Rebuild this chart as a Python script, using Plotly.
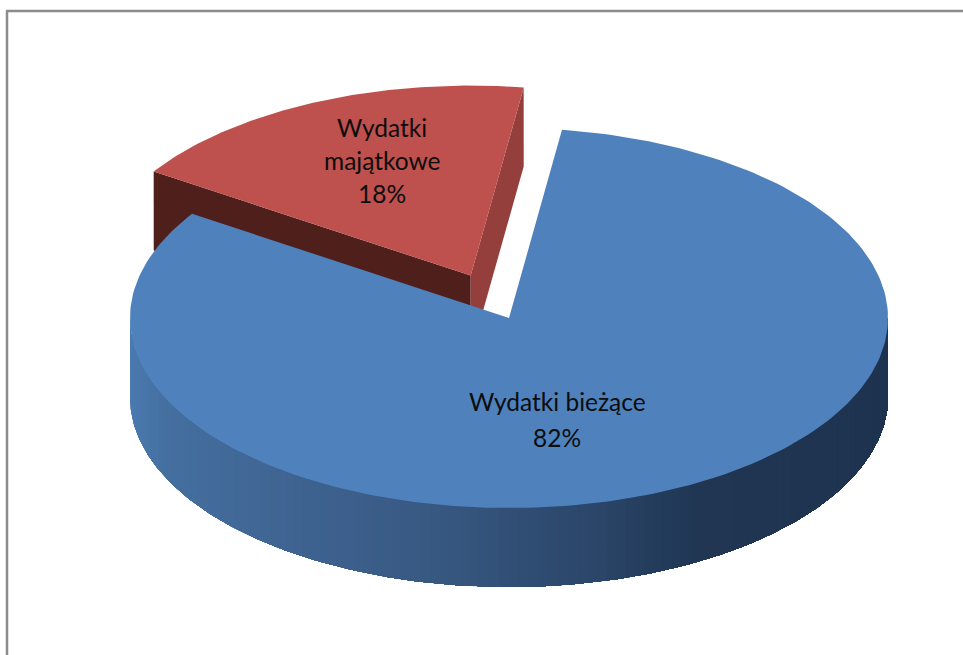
import numpy as np
import plotly.graph_objects as go

categories = ["Wydatki bieżące", "Wydatki majątkowe"]
values = [82, 18]
label_lines = [["Wydatki bieżące"], ["Wydatki", "majątkowe"]]

CX, CY, RX, RY, DEPTH = 509, 318, 379, 190, 79
START_DEG = 8.04
EXPLODE = 0.245
TOP_COLORS = ["#4f81bd", "#be504d"]
RED_LEFT_WALL = "#4f1f1c"
RED_RIGHT_WALL = "#953f3c"
WALL_STOPS = [(0.0, (74, 122, 176)), (0.05, (68, 111, 159)), (0.22, (63, 99, 145)),
              (0.42, (54, 87, 127)), (0.62, (42, 69, 104)), (0.75, (32, 54, 83)),
              (1.0, (30, 51, 80))]
FONT = "Lato"
FONT_SIZE = 24.5

total = sum(values)
sweep = [v / total * 360 for v in values]


def ell(t, cx, cy):
    t = np.radians(t)
    return cx + RX * np.sin(t), cy - RY * np.cos(t)


def poly(xs, ys, color):
    return go.Scatter(x=list(xs), y=list(ys), mode="lines", fill="toself", fillcolor=color,
                      line=dict(color=color, width=0), hoverinfo="skip", showlegend=False)


def wall_color(f):
    for (a, ca), (b, cb) in zip(WALL_STOPS, WALL_STOPS[1:]):
        if f <= b:
            k = (f - a) / (b - a)
            c = [round(p + (q - p) * k) for p, q in zip(ca, cb)]
            return f"rgb({c[0]},{c[1]},{c[2]})"
    return "rgb(30,51,80)"


fig = go.Figure()

# slice angles, clockwise from the start angle
blue_a, blue_b = START_DEG, START_DEG + sweep[0]
red_a, red_b = blue_b, blue_b + sweep[1]
mid = np.radians((red_a + red_b) / 2)
rcx = CX + EXPLODE * RX * np.sin(mid)
rcy = CY - EXPLODE * RY * np.cos(mid)

# exploded slice: cut faces and top
lx, ly = ell(red_a, rcx, rcy)
fig.add_trace(poly([rcx, lx, lx, rcx], [rcy, ly, ly + DEPTH, rcy + DEPTH], RED_LEFT_WALL))
rx_, ry_ = ell(red_b, rcx, rcy)
fig.add_trace(poly([rcx, rx_, rx_, rcx], [rcy, ry_, ry_ + DEPTH, rcy + DEPTH], RED_RIGHT_WALL))
ts = np.linspace(red_a, red_b, 80)
ax, ay = ell(ts, rcx, rcy)
fig.add_trace(poly([rcx, *ax, rcx], [rcy, *ay, rcy], TOP_COLORS[1]))

# main slice: front wall painted left to right, each layer covering the rest of the wall
wall_t = np.linspace(270, 90, 241)
wall_x, wall_y = ell(wall_t, CX, CY)
for i in range(0, 240, 2):
    xs, ys = wall_x[i:], wall_y[i:]
    f = (wall_x[i] + 0.5 * (wall_x[i + 2] - wall_x[i]) - (CX - RX)) / (2 * RX)
    fig.add_trace(poly([*xs, *xs[::-1]], [*ys, *(ys[::-1] + DEPTH)], wall_color(f)))
ts = np.linspace(blue_a, blue_b, 240)
ax, ay = ell(ts, CX, CY)
fig.add_trace(poly([CX, *ax, CX], [CY, *ay, CY], TOP_COLORS[0]))


# labels
def label(lines, value, x, y0, step):
    for i, s in enumerate(lines + [f"{value}%"]):
        fig.add_annotation(x=x, y=y0 + i * step, text=s, showarrow=False, xanchor="center",
                           yanchor="middle", font=dict(family=FONT, size=FONT_SIZE, color="#0d0d0d"))


label(label_lines[0], values[0], 557, 401, 36)
label(label_lines[1], values[1], 382, 127, 33)

fig.add_shape(type="line", x0=7, x1=7, y0=11, y1=655, line=dict(color="#8c8c8c", width=2.5))
fig.add_shape(type="line", x0=6, x1=963, y0=11, y1=11, line=dict(color="#8c8c8c", width=2.5))

fig.update_xaxes(range=[0, 963], visible=False)
fig.update_yaxes(range=[655, 0], visible=False)
fig.update_layout(width=963, height=655, margin=dict(l=0, r=0, t=0, b=0),
                  paper_bgcolor="white", plot_bgcolor="white", showlegend=False)
fig.write_html("out.html", config={"displayModeBar": False},
               post_script="document.body.style.margin='0';")
